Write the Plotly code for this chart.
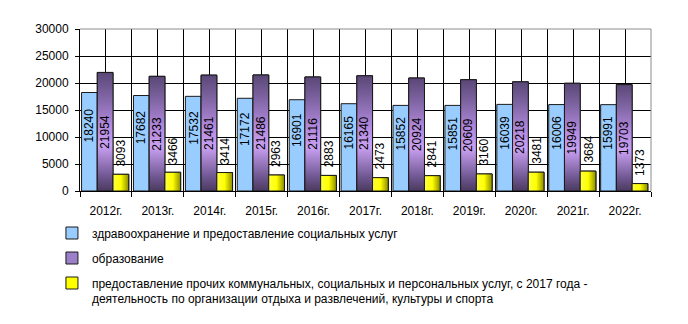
import plotly.graph_objects as go

# Годы и показатели
years = ["2012г.", "2013г.", "2014г.", "2015г.", "2016г.", "2017г.",
         "2018г.", "2019г.", "2020г.", "2021г.", "2022г."]
health = [18240, 17682, 17532, 17172, 16901, 16165, 15852, 15851, 16039, 16006, 15991]
education = [21954, 21233, 21461, 21486, 21116, 21340, 20924, 20609, 20218, 19949, 19703]
other = [3093, 3466, 3414, 2963, 2883, 2473, 2841, 3160, 3481, 3684, 1373]

names = [
    "здравоохранение и предоставление социальных услуг",
    "образование",
    "предоставление прочих коммунальных, социальных и персональных услуг, с 2017 года -<br>"
    "деятельность по организации отдыха и развлечений, культуры и спорта",
]

FONT = "Arial, Liberation Sans, sans-serif"
NARROW = "Liberation Sans Narrow, Arial Narrow, Liberation Sans, Arial, sans-serif"

W = 0.303          # ширина одного столбца в долях категории
BASE = -0.47       # левый край группы относительно центра категории
offsets = [BASE, BASE + W, BASE + 2 * W]

xs = list(range(len(years)))
fig = go.Figure()

series = [
    (health, "#99ccff"),
    (education, "#9b7fc8"),
    (other, "#ffff00"),
]
for k, (vals, col) in enumerate(series):
    fig.add_trace(go.Bar(
        x=xs, y=vals, name=names[k], width=W, offset=offsets[k],
        marker=dict(color=col, line=dict(color="#1a1a1a", width=1)),
        legendgroup=str(k),
    ))

# Градиентная заливка для второго и третьего рядов
purple_scale = [[0, "#4a3a5e"], [0.12, "#6e5690"], [0.38, "#c9a0f2"],
                [0.55, "#b48ade"], [0.8, "#7e64a2"], [1, "#5a4776"]]
yellow_scale = [[0, "#ffff40"], [0.5, "#ffff00"], [1, "#8c8c00"]]

for i, v in enumerate(education):
    x0 = i + offsets[1]
    x1 = x0 + W
    fig.add_trace(go.Scatter(
        x=[x0, x1, x1, x0, x0], y=[0, 0, v, v, 0], mode="lines",
        fill="toself", line=dict(color="#1a1a1a", width=1),
        fillgradient=dict(type="vertical", colorscale=purple_scale, start=0, stop=v),
        hoverinfo="skip", showlegend=False,
    ))
for i, v in enumerate(other):
    x0 = i + offsets[2]
    x1 = x0 + W
    fig.add_trace(go.Scatter(
        x=[x0, x1, x1, x0, x0], y=[0, 0, v, v, 0], mode="lines",
        fill="toself", line=dict(color="#1a1a1a", width=1),
        fillgradient=dict(type="horizontal", colorscale=yellow_scale, start=x0, stop=x1),
        hoverinfo="skip", showlegend=False,
    ))

# Подписи значений
annotations = []
for i in xs:
    annotations.append(dict(
        x=i + offsets[0] + W / 2, y=health[i] * 0.67, text=str(health[i]),
        textangle=-90, showarrow=False, xanchor="center", yanchor="middle",
        font=dict(family=FONT, size=12, color="#000000")))
    annotations.append(dict(
        x=i + offsets[1] + W / 2, y=education[i] / 2, text=str(education[i]),
        textangle=-90, showarrow=False, xanchor="center", yanchor="middle",
        font=dict(family=FONT, size=12, color="#000000")))
    annotations.append(dict(
        x=i + offsets[2] + W / 2, y=other[i], text=str(other[i]),
        textangle=-90, showarrow=False, xanchor="center", yanchor="middle",
        yshift=8 + 3.4 * len(str(other[i])),
        font=dict(family=FONT, size=12, color="#000000")))

fig.update_layout(
    width=688, height=324,
    margin=dict(l=80, r=37, t=29, b=133, autoexpand=False),
    paper_bgcolor="white", plot_bgcolor="white",
    font=dict(family=FONT, size=12, color="#000000"),
    barmode="overlay",
    annotations=annotations,
    showlegend=True,
    legend=dict(
        orientation="v", xref="container", yref="container",
        x=0.0755, y=0.325, xanchor="left", yanchor="top",
        traceorder="grouped", tracegroupgap=6, valign="top",
        font=dict(family=FONT, size=12, color="#000000"),
        bgcolor="rgba(0,0,0,0)", itemwidth=30,
    ),
    shapes=[
        dict(type="line", xref="paper", yref="paper", x0=0, x1=1, y0=1, y1=1,
             line=dict(color="#8c8c8c", width=1), layer="above"),
        dict(type="line", xref="paper", yref="paper", x0=1, x1=1, y0=0, y1=1,
             line=dict(color="#8c8c8c", width=1), layer="above"),
    ],
)

fig.update_xaxes(
    range=[-0.5, len(years) - 0.5],
    tickvals=xs, ticktext=years, ticks="", ticklabelstandoff=9,
    tickfont=dict(family=NARROW, size=12),
    showgrid=True, gridcolor="#000000", gridwidth=1,
    showline=True, linecolor="#000000", linewidth=1,
    zeroline=False,
    minor=dict(tickvals=[i - 0.5 for i in range(len(years) + 1)],
               ticks="outside", ticklen=5, tickcolor="#000000",
               showgrid=True, gridcolor="#000000", gridwidth=1),
)
fig.update_yaxes(
    range=[0, 30000], tickvals=[0, 5000, 10000, 15000, 20000, 25000, 30000],
    tickformat="d",
    ticks="outside", ticklen=4, tickcolor="#000000", ticklabelstandoff=4,
    tickfont=dict(family=FONT, size=12),
    showgrid=True, gridcolor="#000000", gridwidth=1,
    showline=True, linecolor="#000000", linewidth=1,
    zeroline=False,
)

fig.write_html("out.html")
